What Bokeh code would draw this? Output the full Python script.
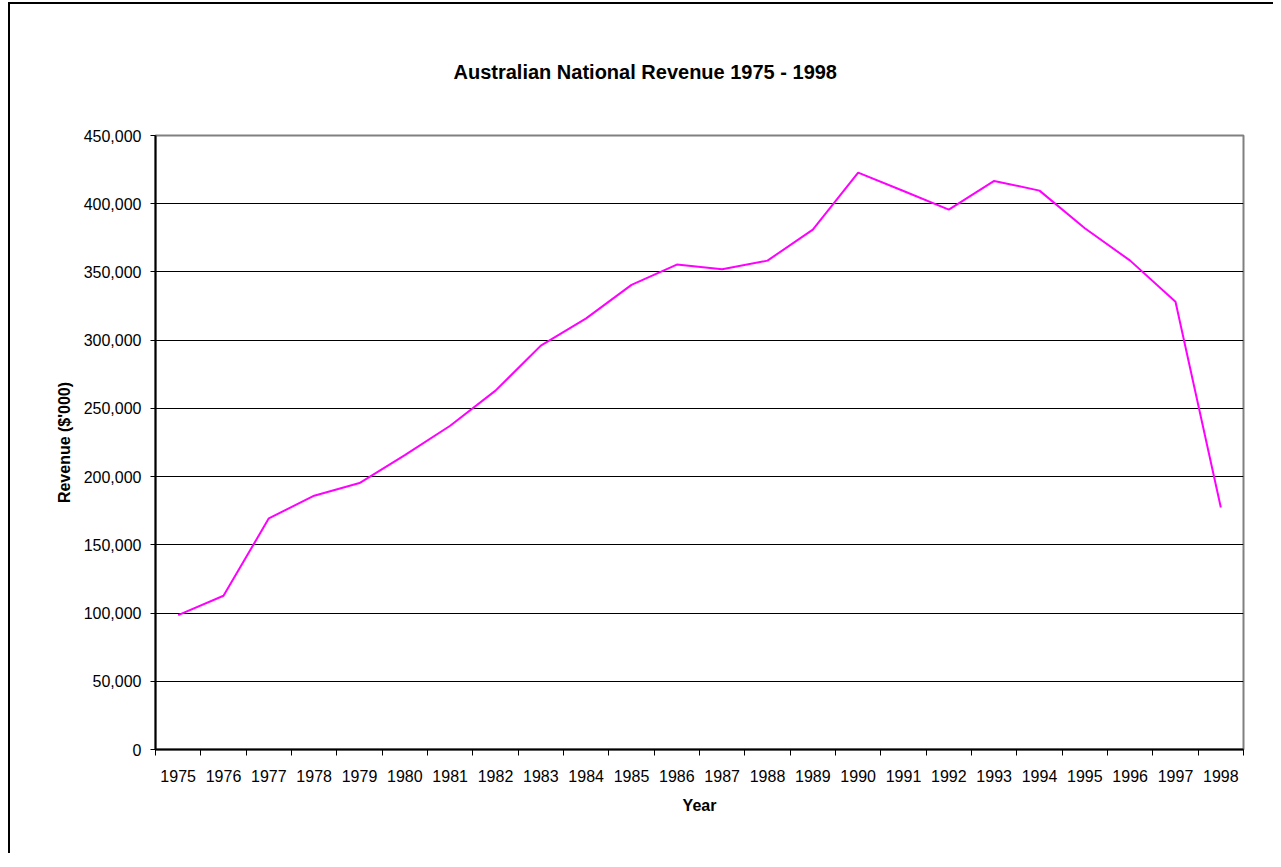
from bokeh.plotting import figure
from bokeh.models import Range1d, FixedTicker, NumeralTickFormatter, BasicTickFormatter
from bokeh.embed import file_html
from bokeh.resources import INLINE

years = [1975, 1976, 1977, 1978, 1979, 1980, 1981, 1982, 1983, 1984, 1985, 1986,
         1987, 1988, 1989, 1990, 1991, 1992, 1993, 1994, 1995, 1996, 1997, 1998]
revenue = [98500, 112700, 169400, 186000, 195300, 215700, 237300, 263000, 296000, 316000,
           340500, 355400, 351900, 358300, 381000, 422800, 409300, 395700, 416700, 409600,
           382000, 358300, 328200, 177400]
y_ticks = [0, 50000, 100000, 150000, 200000, 250000, 300000, 350000, 400000, 450000]

title_text = "Australian National Revenue 1975 - 1998"
x_label = "Year"
y_label = "Revenue ($'000)"

FONT = "Liberation Sans"

p = figure(
    frame_width=1088, frame_height=614,
    min_border_left=145, min_border_right=30, min_border_top=131, min_border_bottom=104,
    x_range=Range1d(years[0] - 0.5, years[-1] + 0.5),
    y_range=Range1d(y_ticks[0], y_ticks[-1]),
    output_backend="svg", toolbar_location=None,
    title=title_text,
)
p.styles = {"border-left": "2px solid black", "border-top": "2px solid black",
            "margin-left": "8px", "margin-top": "2px"}

p.line(years, revenue, line_color="#FF00FF", line_width=2)

# title
p.title.text_font = FONT
p.title.text_font_size = "20px"
p.title.text_font_style = "bold"
p.title.text_color = "black"
p.title.align = "left"
p.title.offset = 298
p.title.standoff = 105

# frame
p.outline_line_color = "#808080"
p.outline_line_width = 2
p.background_fill_color = "white"
p.border_fill_color = "white"

# grid
p.xgrid.grid_line_color = None
p.ygrid.grid_line_color = "black"
p.ygrid.grid_line_width = 1
p.ygrid.ticker = FixedTicker(ticks=y_ticks)

# x axis
xa = p.xaxis[0]
xa.ticker = FixedTicker(ticks=years, minor_ticks=[y - 0.5 for y in years] + [years[-1] + 0.5])
xa.formatter = BasicTickFormatter(use_scientific=False)
xa.major_tick_out = 0
xa.major_tick_in = 0
xa.minor_tick_out = 6
xa.minor_tick_in = 0
xa.minor_tick_line_color = "black"
xa.axis_line_color = "black"
xa.axis_line_width = 2
xa.major_label_standoff = 14
xa.major_label_text_font = FONT
xa.major_label_text_font_size = "16px"
xa.major_label_text_color = "black"
xa.axis_label = x_label
xa.axis_label_text_font = FONT
xa.axis_label_text_font_size = "16px"
xa.axis_label_text_font_style = "bold"
xa.axis_label_text_color = "black"
xa.axis_label_standoff = 12

# y axis
ya = p.yaxis[0]
ya.ticker = FixedTicker(ticks=y_ticks)
ya.formatter = NumeralTickFormatter(format="0,0")
ya.major_tick_out = 5
ya.major_tick_in = 0
ya.minor_tick_out = 0
ya.minor_tick_in = 0
ya.major_tick_line_color = "black"
ya.axis_line_color = "black"
ya.axis_line_width = 2
ya.major_label_standoff = 9
ya.major_label_text_font = FONT
ya.major_label_text_font_size = "16px"
ya.major_label_text_color = "black"
ya.axis_label = y_label
ya.axis_label_text_font = FONT
ya.axis_label_text_font_size = "16px"
ya.axis_label_text_font_style = "bold"
ya.axis_label_text_color = "black"
ya.axis_label_standoff = 8

open("out.html", "w").write(file_html(p, INLINE))
